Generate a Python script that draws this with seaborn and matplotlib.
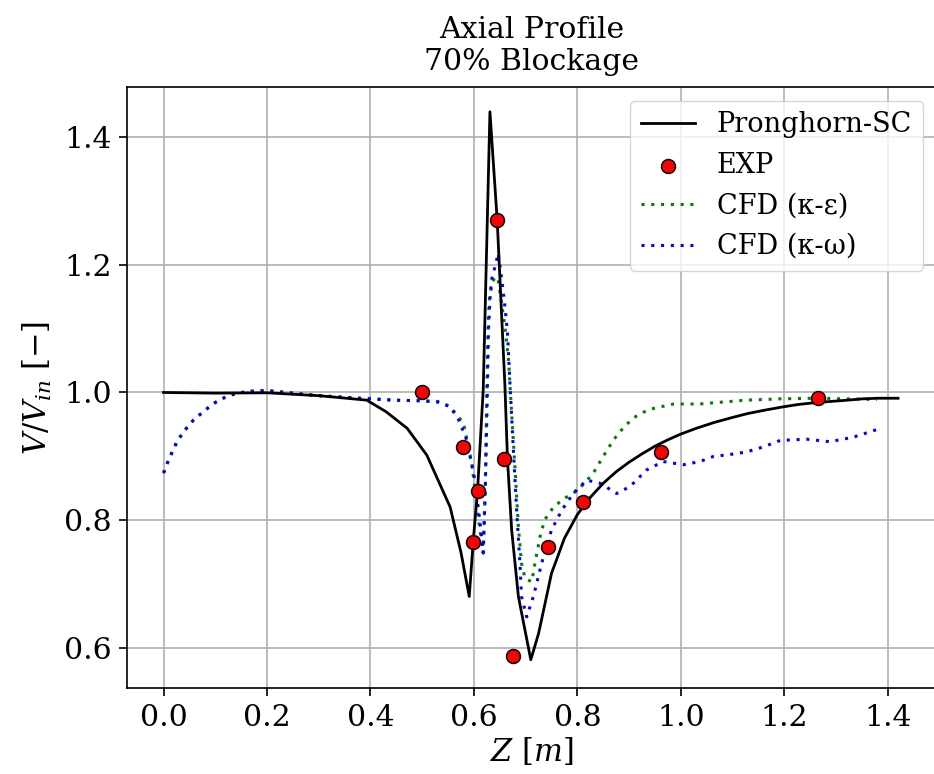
import numpy as np
import pandas as pd
import matplotlib
matplotlib.use("Agg")
import matplotlib.pyplot as plt
import seaborn as sns

# Pronghorn-SC axial velocity profile
z_pronghorn = [0.0, 0.1, 0.2, 0.3, 0.393, 0.43, 0.471, 0.509, 0.554, 0.575, 0.591,
               0.599, 0.607, 0.618, 0.631, 0.645, 0.660, 0.665, 0.673, 0.686, 0.710,
               0.725, 0.750, 0.775, 0.800, 0.825, 0.850, 0.875, 0.900, 0.925, 0.950,
               0.975, 1.0, 1.03, 1.064, 1.10, 1.129, 1.16, 1.194, 1.225, 1.258, 1.29,
               1.323, 1.35, 1.381, 1.42]
v_pronghorn = [1.0, 0.999, 0.9995, 0.995, 0.988, 0.970, 0.944, 0.902, 0.821, 0.75, 0.681,
               0.770, 0.846, 1.004, 1.439, 1.27, 1.01, 0.894, 0.785, 0.681, 0.582,
               0.623, 0.717, 0.772, 0.809, 0.836, 0.858, 0.876, 0.891, 0.904, 0.916,
               0.926, 0.935, 0.944, 0.953, 0.961, 0.967, 0.972, 0.977, 0.981, 0.984, 0.986,
               0.988, 0.990, 0.991, 0.991]

# Experimental measurements
z_exp = [0.500, 0.578, 0.607, 0.598, 0.645, 0.658, 0.676, 0.744, 0.810, 0.961, 1.265]
v_exp = [1.000, 0.915, 0.846, 0.766, 1.270, 0.896, 0.588, 0.759, 0.828, 0.907, 0.991]

# CFD, k-epsilon turbulence model
z_keps = [0.0, 0.01, 0.026, 0.04, 0.058, 0.08, 0.097, 0.12, 0.142, 0.17, 0.2, 0.25,
          0.3, 0.38, 0.445, 0.5, 0.53, 0.554, 0.58, 0.596, 0.609, 0.618, 0.622, 0.625,
          0.628, 0.631, 0.638, 0.641, 0.647, 0.660, 0.667, 0.673, 0.680, 0.686, 0.692,
          0.699, 0.712, 0.718, 0.728, 0.737, 0.754, 0.776, 0.792, 0.811, 0.831, 0.850,
          0.870, 0.889, 0.908, 0.927, 0.947, 0.986, 1.037, 1.08, 1.127, 1.19, 1.256,
          1.32, 1.379]
v_keps = [0.874, 0.895, 0.923, 0.94, 0.957, 0.972, 0.983, 0.993, 0.999, 1.002, 1.003, 0.999,
          0.995, 0.991, 0.988, 0.987, 0.986, 0.978, 0.952, 0.889, 0.801, 0.749, 0.85, 1.0,
          1.119, 1.155, 1.176, 1.181, 1.176, 1.103, 1.051, 0.967, 0.874, 0.790, 0.733,
          0.709, 0.704, 0.733, 0.775, 0.801, 0.821, 0.835, 0.842, 0.856, 0.874, 0.900,
          0.926, 0.945, 0.960, 0.969, 0.975, 0.982, 0.982, 0.985, 0.988, 0.990, 0.991,
          0.990, 0.989]

# CFD, k-omega turbulence model
z_komg = [0.0, 0.01, 0.026, 0.04, 0.058, 0.08, 0.097, 0.12, 0.142, 0.17, 0.2, 0.25,
          0.3, 0.38, 0.445, 0.5, 0.53, 0.554, 0.572, 0.586, 0.602, 0.612, 0.618, 0.622,
          0.625, 0.628, 0.631, 0.634, 0.641, 0.647, 0.654, 0.660, 0.665, 0.670, 0.676,
          0.683, 0.689, 0.692, 0.702, 0.715, 0.731, 0.750, 0.770, 0.792, 0.818, 0.844,
          0.876, 0.902, 0.934, 0.966, 1.005, 1.037, 1.063, 1.095, 1.127, 1.16, 1.192,
          1.243, 1.288, 1.333, 1.379]
v_komg = [0.874, 0.895, 0.923, 0.94, 0.957, 0.972, 0.983, 0.993, 0.999, 1.002, 1.003, 0.999,
          0.995, 0.991, 0.988, 0.987, 0.985, 0.978, 0.955, 0.926, 0.863, 0.795, 0.749, 0.85,
          0.96, 1.093, 1.145, 1.176, 1.197, 1.218, 1.176, 1.134, 1.093, 1.009, 0.915,
          0.811, 0.733, 0.681, 0.649, 0.681, 0.733, 0.785, 0.816, 0.842, 0.863, 0.858,
          0.842, 0.853, 0.879, 0.892, 0.887, 0.892, 0.900, 0.903, 0.907, 0.915, 0.925,
          0.927, 0.923, 0.930, 0.942]

x_ticks = [0.0, 0.2, 0.4, 0.6, 0.8, 1.0, 1.2, 1.4]
y_ticks = [0.6, 0.8, 1.0, 1.2, 1.4]

plt.rcParams["font.family"] = ["DejaVu Serif"]
plt.rcParams["mathtext.fontset"] = "dejavuserif"

fig = plt.figure(figsize=(9.34, 7.74), dpi=100)
ax = fig.add_axes([126.8 / 934, (774 - 688.3) / 774, (936.5 - 126.8) / 934, (688.3 - 87) / 774])

dotted = (0, (1, 2.2))
sns.lineplot(x=z_pronghorn, y=v_pronghorn, ax=ax, color="black", lw=2.0,
             sort=False, estimator=None, label="Pronghorn-SC", zorder=3)
sns.scatterplot(x=z_exp, y=v_exp, ax=ax, color="red", edgecolor="black", linewidth=1.1,
                s=100, label="EXP", zorder=5)
sns.lineplot(x=z_keps, y=v_keps, ax=ax, color="green", lw=2.2, linestyle=dotted,
             sort=False, estimator=None, label="CFD (κ-ε)", zorder=2)
sns.lineplot(x=z_komg, y=v_komg, ax=ax, color="blue", lw=2.2, linestyle=dotted,
             sort=False, estimator=None, label="CFD (κ-ω)", zorder=2)

ax.set_xlim(-0.071, (936.5 - 163.5) / 517.3)
ax.set_ylim(0.5374, 1.4777)
ax.set_xticks(x_ticks)
ax.set_yticks(y_ticks)
ax.set_xticklabels([f"{t:.1f}" for t in x_ticks])
ax.set_yticklabels([f"{t:.1f}" for t in y_ticks])
ax.tick_params(labelsize=21.5, length=6, width=1.2, pad=5)
for sp in ax.spines.values():
    sp.set_linewidth(1.2)
ax.grid(True, color="#b0b0b0", lw=1.2)
ax.set_axisbelow(True)

ax.set_xlabel("$Z$ [$m$]", fontsize=22, labelpad=3)
ax.set_ylabel("$V/V_{in}$ [$-$]", fontsize=22, labelpad=7)
ax.set_title("Axial Profile\n70% Blockage", fontsize=21.5, pad=12)

ax.legend(loc="upper right", fontsize=19.5, scatterpoints=1)

fig.savefig("out.png", dpi=100)
